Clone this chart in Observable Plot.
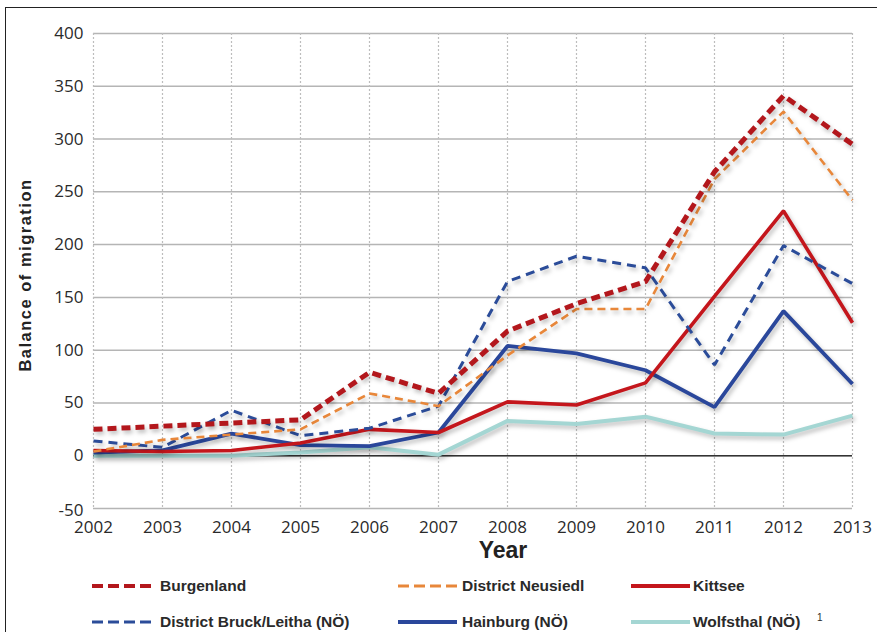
<!DOCTYPE html>
<html>
<head>
<meta charset="utf-8">
<script src="https://cdn.jsdelivr.net/npm/d3@7"></script>
<script src="https://cdn.jsdelivr.net/npm/@observablehq/plot@0.6"></script>
<style>
  html, body { margin: 0; padding: 0; background: #fff; width: 877px; height: 632px; overflow: hidden; }
  #frame { position: absolute; left: 5px; top: 7px; width: 900px; height: 700px; border-top: 1.5px solid #222; border-left: 1.5px solid #222; }
  #chart { position: absolute; left: 0; top: 0; }
  #legend { position: absolute; left: 0; top: 0; width: 877px; height: 632px; pointer-events: none;
            font-family: "Liberation Sans", Arial, sans-serif; font-weight: bold; font-size: 15.5px; color: #2a2a2a; }
  .item { position: absolute; white-space: nowrap; height: 20px; line-height: 20px; }
  .item svg { position: absolute; top: 5px; }
  .item span { position: absolute; top: 0; }
  sup { font-size: 10px; font-weight: normal; position: absolute; top: -4px; }
</style>
</head>
<body>
<div id="frame"></div>
<div id="chart"></div>
<div id="legend"></div>
<script>
const years = [2002, 2003, 2004, 2005, 2006, 2007, 2008, 2009, 2010, 2011, 2012, 2013];
const burgenland = [25, 28, 31, 34, 79, 59, 118, 144, 165, 269, 341, 295];
const neusiedl   = [4, 15, 20, 25, 59, 47, 95, 139, 139, 262, 326, 242];
const bruck      = [14, 8, 43, 19, 26, 47, 165, 189, 178, 86, 199, 163];
const kittsee    = [5, 4, 5, 12, 25, 22, 51, 48, 69, 151, 232, 126];
const hainburg   = [3, 5, 21, 10, 9, 22, 104, 97, 81, 46, 137, 68];
const wolfsthal  = [0, 0, 0, 3, 8, 1, 33, 30, 37, 21, 20, 38];
const seriesNames = ["Burgenland", "District Neusiedl", "Kittsee", "District Bruck/Leitha (NÖ)", "Hainburg (NÖ)", "Wolfsthal (NÖ)"];
const seriesValues = [burgenland, neusiedl, kittsee, bruck, hainburg, wolfsthal];
const yTicks = [-50, 0, 50, 100, 150, 200, 250, 300, 350, 400];

const styles = {
  "Burgenland": {stroke: "#b3171c", strokeWidth: 5, dash: "9,5", swDash: "11,5", swWidth: 4},
  "District Neusiedl": {stroke: "#e8873a", strokeWidth: 2.6, dash: "8,5", swDash: "11,5", swWidth: 3},
  "Kittsee": {stroke: "#c4161c", strokeWidth: 3.6, dash: null, swWidth: 4},
  "District Bruck/Leitha (NÖ)": {stroke: "#2b4c99", strokeWidth: 3, dash: "9,6", swDash: "11,5", swWidth: 3},
  "Hainburg (NÖ)": {stroke: "#2a479b", strokeWidth: 3.8, dash: null, swWidth: 4},
  "Wolfsthal (NÖ)": {stroke: "#a4d6d3", strokeWidth: 4, dash: null, swWidth: 4}
};

const data = [];
seriesNames.forEach((s, i) => years.forEach((y, j) => data.push({series: s, year: y, value: seriesValues[i][j]})));

const drawOrder = ["Wolfsthal (NÖ)", "Hainburg (NÖ)", "Kittsee", "District Bruck/Leitha (NÖ)", "District Neusiedl", "Burgenland"];

const lineMarks = drawOrder.map(s => {
  const st = styles[s];
  const opts = {x: "year", y: "value", stroke: st.stroke, strokeWidth: st.strokeWidth, strokeLinejoin: "miter", strokeLinecap: "butt"};
  if (st.dash) opts.strokeDasharray = st.dash;
  return Plot.line(data.filter(d => d.series === s), opts);
});

const chart = Plot.plot({
  width: 877,
  height: 572,
  marginLeft: 93,
  marginRight: 25,
  marginTop: 33,
  marginBottom: 64,
  style: {fontFamily: "'Open Sans', 'Noto Sans', sans-serif", fontSize: "17px", color: "#2a2a2a", background: "transparent"},
  x: {domain: [2002, 2013], ticks: years, tickFormat: d => String(d), tickSize: 0, tickPadding: 12, label: null},
  y: {domain: [-50, 400], ticks: yTicks, tickFormat: d => String(d), tickSize: 0, tickPadding: 10, label: null},
  marks: [
    Plot.gridY(yTicks, {stroke: "#b5b5b5", strokeOpacity: 1, strokeWidth: 1.5}),
    Plot.gridX(years, {stroke: "#bdbdbd", strokeOpacity: 1, strokeWidth: 1.2, strokeDasharray: "2,2"}),
    Plot.ruleY([0], {stroke: "#333", strokeWidth: 1.5}),
    ...lineMarks
  ]
});
document.getElementById("chart").appendChild(chart);

// soft drop shadow on line marks, like the reference
d3.select(chart).selectAll("g[aria-label='line']").style("filter", "drop-shadow(2px 3px 2px rgba(0,0,0,0.25))");
// nudge the lowest y label up a little so it clears "2002"
d3.select(chart).selectAll("g[aria-label='y-axis tick label'] text").filter(function() { return this.textContent === "-50"; })
  .attr("dy", "0.1em");

// axis titles
const svg = d3.select(chart);
svg.append("text").attr("x", 503).attr("y", 558).attr("text-anchor", "middle")
  .style("font-family", "'Liberation Sans', Arial, sans-serif").style("font-weight", "bold").style("font-size", "23px").style("fill", "#222")
  .text("Year");
svg.append("text").attr("transform", "translate(31,275) rotate(-90)").attr("text-anchor", "middle")
  .style("font-family", "'Liberation Sans', Arial, sans-serif").style("font-weight", "bold").style("font-size", "16.5px")
  .style("letter-spacing", "1.5px").style("fill", "#222")
  .text("Balance of migration");

// legend
const positions = [
  {x: 92, t: 160, y: 586}, {x: 398, t: 462, y: 586}, {x: 631, t: 693, y: 586},
  {x: 92, t: 160, y: 622}, {x: 398, t: 462, y: 622}, {x: 631, t: 693, y: 622}
];
const legend = document.getElementById("legend");
seriesNames.forEach((s, i) => {
  const st = styles[s];
  const p = positions[i];
  const div = document.createElement("div");
  div.className = "item";
  div.style.left = p.x + "px";
  div.style.top = (p.y - 10) + "px";
  const w = 59;
  div.innerHTML = `<svg width="${w}" height="10" style="left:0"><line x1="0" x2="${w}" y1="5" y2="5" stroke="${st.stroke}" stroke-width="${st.swWidth}" ${st.swDash ? `stroke-dasharray="${st.swDash}"` : ""}/></svg><span style="left:${p.t - p.x}px">${s}</span>${s === "Wolfsthal (NÖ)" ? `<sup style="left:${817 - p.x}px">1</sup>` : ""}`;
  legend.appendChild(div);
});
</script>
</body>
</html>
